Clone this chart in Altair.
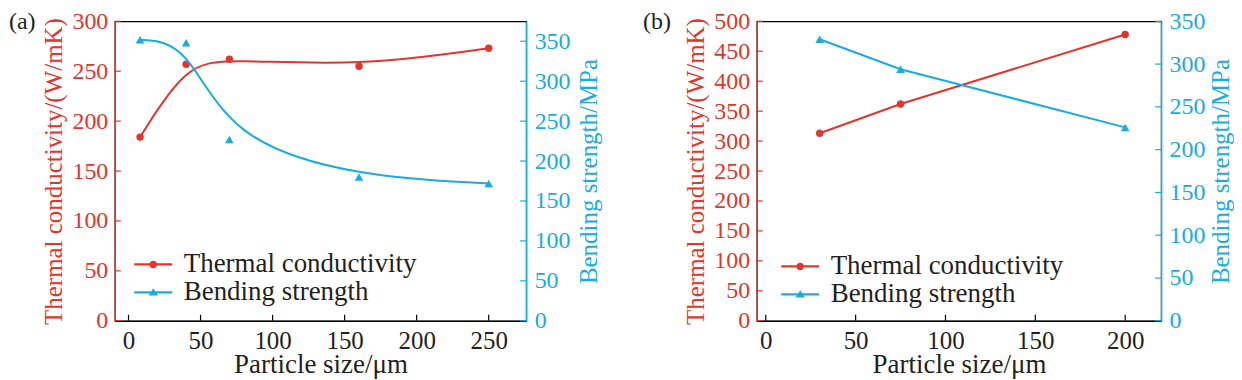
import altair as alt
import pandas as pd

FONT = "Liberation Serif"
RED = "#e2352b"
BLUE = "#18ace3"
INK = "#231f20"

series_names = ["Thermal conductivity", "Bending strength"]

# ---- panel (a) ----
a_size = [8, 40, 70, 160, 250]
a_tc = [184, 257, 262, 255, 273]
a_bs = [352, 348, 227, 180, 172]
a_x_dom = [-9.5, 276]
a_tc_dom = [0, 300]
a_bs_dom = [0, 375]
a_x_ticks = [0, 50, 100, 150, 200, 250]
a_tc_ticks = [0, 50, 100, 150, 200, 250, 300]
a_bs_ticks = [0, 50, 100, 150, 200, 250, 300, 350]

# ---- panel (b) ----
b_size = [30, 75, 200]
b_tc = [313, 362, 478]
b_bs = [329, 294, 226]
b_x_dom = [-5, 220]
b_tc_dom = [0, 500]
b_bs_dom = [0, 350]
b_x_ticks = [0, 50, 100, 150, 200]
b_tc_ticks = [0, 50, 100, 150, 200, 250, 300, 350, 400, 450, 500]
b_bs_ticks = [0, 50, 100, 150, 200, 250, 300, 350]

H = 300
TICK = 6

# legend symbols: line with marker (custom SVG paths, 5 px per unit at symbolSize 100)
SYM_CIRCLE = ("M-3.8,-0.22H3.8V0.22H-3.8Z "
              "M0.75,0A0.75,0.75 0 1,1 -0.75,0A0.75,0.75 0 1,1 0.75,0Z")
SYM_TRI = ("M-3.8,-0.22H3.8V0.22H-3.8Z "
           "M0,-0.8L0.95,0.65L-0.95,0.65Z")


def panel(label, sizes, tc, bs, x_dom, tc_dom, bs_dom, x_ticks, tc_ticks, bs_ticks,
          interp, leg_x, leg_y, label_dx, W, right_title_pad):
    df = pd.DataFrame({"size": sizes, "tc": tc, "bs": bs})

    x_enc = alt.X("size:Q",
                  scale=alt.Scale(domain=x_dom, nice=False, zero=False),
                  axis=alt.Axis(values=x_ticks, title="Particle size/μm",
                                ticks=False, tickSize=0, domainColor="black",
                                domainWidth=1.2, labelColor=INK, titleColor=INK,
                                labelFontSize=25, titleFontSize=27,
                                labelPadding=8, titlePadding=-2,
                                labelFlush=False, labelOverlap=False, grid=False))
    y_tc = alt.Y("tc:Q",
                 scale=alt.Scale(domain=tc_dom, nice=False, zero=False),
                 axis=alt.Axis(orient="left", values=tc_ticks,
                               title="Thermal conductivity/(W/mK)",
                               labelFontSize=24, titleFontSize=25,
                               ticks=False, tickSize=0, domainColor=RED,
                               domainWidth=1.5,
                               labelColor=RED, titleColor=RED,
                               labelPadding=7, titlePadding=5,
                               labelFlush=False, labelOverlap=False, grid=False))
    y_bs = alt.Y("bs:Q",
                 scale=alt.Scale(domain=bs_dom, nice=False, zero=False),
                 axis=alt.Axis(orient="right", values=bs_ticks,
                               title="Bending strength/MPa",
                               labelFontSize=24, titleFontSize=25,
                               titleAngle=270, titleBaseline="top",
                               ticks=False, tickSize=0, domainColor=BLUE,
                               domainWidth=1.5,
                               labelColor=BLUE, titleColor=BLUE,
                               labelPadding=8, titlePadding=right_title_pad,
                               labelFlush=False, labelOverlap=False, grid=False))

    base = alt.Chart(df)
    tc_line = base.mark_line(color=RED, strokeWidth=2, interpolate=interp).encode(x=x_enc, y=y_tc)
    tc_pts = base.mark_point(shape="circle", filled=True, size=55, color=RED,
                             opacity=1).encode(x=x_enc, y=y_tc)
    tc_tick = alt.Chart(pd.DataFrame({"tc": tc_ticks})).mark_rule(
        color=RED, strokeWidth=1.2).encode(y=y_tc, x=alt.value(0), x2=alt.value(TICK))
    x_tick = alt.Chart(pd.DataFrame({"size": x_ticks})).mark_rule(
        color="black", strokeWidth=1.2).encode(x=x_enc, y=alt.value(H), y2=alt.value(H - TICK))

    bs_line = base.mark_line(color=BLUE, strokeWidth=2, interpolate=interp).encode(x=x_enc, y=y_bs)
    bs_pts = base.mark_point(shape="triangle-up", filled=True, size=75, color=BLUE,
                             opacity=1).encode(x=x_enc, y=y_bs)
    bs_tick = alt.Chart(pd.DataFrame({"bs": bs_ticks})).mark_rule(
        color=BLUE, strokeWidth=1.2).encode(y=y_bs, x=alt.value(W), x2=alt.value(W - TICK))

    leg = alt.Legend(orient="none", legendX=leg_x, legendY=leg_y, title=None,
                     labelFont=FONT, labelFontSize=27, labelColor=INK,
                     symbolSize=100, symbolStrokeWidth=0, labelOffset=17,
                     rowPadding=0, padding=0, labelLimit=0)
    legend_layer = alt.Chart(pd.DataFrame({"series": series_names})).mark_point(
        filled=True, opacity=1).encode(
        color=alt.Color("series:N", scale=alt.Scale(domain=series_names, range=[RED, BLUE]),
                        legend=leg, sort=series_names),
        shape=alt.Shape("series:N", scale=alt.Scale(domain=series_names, range=[SYM_CIRCLE, SYM_TRI]),
                        legend=leg, sort=series_names),
    ).transform_filter("false")

    panel_label = alt.Chart(pd.DataFrame({"label": [label]})).mark_text(
        font=FONT, fontSize=24, color=INK, align="left", baseline="alphabetic",
    ).encode(text="label:N", x=alt.value(label_dx), y=alt.value(8))

    red = alt.layer(tc_line, tc_pts, tc_tick, x_tick)
    blue = alt.layer(bs_line, bs_pts, bs_tick)
    return alt.layer(red, blue, legend_layer, panel_label).resolve_scale(
        y="independent").properties(width=W, height=H)


pa = panel("(a)", a_size, a_tc, a_bs, a_x_dom, a_tc_dom, a_bs_dom,
           a_x_ticks, a_tc_ticks, a_bs_ticks, "basis", 25, 230, -106, 412, 6)
pb = panel("(b)", b_size, b_tc, b_bs, b_x_dom, b_tc_dom, b_bs_dom,
           b_x_ticks, b_tc_ticks, b_bs_ticks, "linear", 30, 232, -114, 405, 3)

chart = alt.hconcat(pa, pb, spacing=40).resolve_scale(
    color="independent", shape="independent").resolve_legend(
    color="independent", shape="independent").properties(
    padding={"left": 0, "top": 0, "right": 0, "bottom": 0}
).configure_axis(
    labelFont=FONT, titleFont=FONT,
    titleFontWeight="normal", grid=False
).configure_view(stroke="black", strokeWidth=1.2)

chart.save("out.html", embed_options={"renderer": "svg", "actions": False})
